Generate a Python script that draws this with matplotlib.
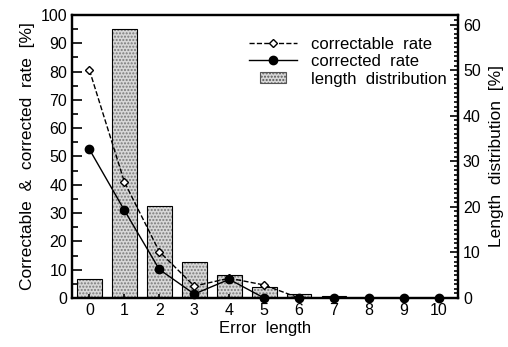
import matplotlib.pyplot as plt
import numpy as np
from matplotlib.ticker import MultipleLocator
from matplotlib.patches import Rectangle
from matplotlib.legend_handler import HandlerPatch

plt.rcParams['font.family'] = ['Liberation Sans', 'DejaVu Sans']

# data
error_length = [0, 1, 2, 3, 4, 5, 6, 7, 8, 9, 10]
length_dist = [4.1, 59.0, 20.1, 7.9, 5.0, 2.5, 0.9, 0.4, 0.1, 0.1, 0.1]
correctable = [80.5, 41, 16.4, 4.2, 7.0, 4.6, 0, 0, 0, 0, 0]
corrected = [52.5, 31, 10.1, 1.4, 6.6, 0, 0, 0, 0, 0, 0]

fig = plt.figure(figsize=(5.08, 3.47), dpi=100)
ax = fig.add_axes([0.1417, 0.1412, 0.76, 0.8156])
ax2 = ax.twinx()

# length distribution on right axis (stippled grey bars)
ax2.bar(error_length, length_dist, width=0.71, color='#d8d8d8', edgecolor='#7a7a7a',
        hatch='.....', linewidth=0, zorder=1)
ax2.bar(error_length, length_dist, width=0.71, facecolor='none', edgecolor='black',
        linewidth=0.8, zorder=2)

# rates on left axis, drawn above bars
ax.set_zorder(ax2.get_zorder() + 1)
ax.patch.set_visible(False)
l1, = ax.plot(error_length, correctable, color='black', linestyle='--', linewidth=1,
              marker='D', markersize=4, markerfacecolor='white', markeredgewidth=1,
              clip_on=False)
l2, = ax.plot(error_length, corrected, color='black', linestyle='-', linewidth=1,
              marker='o', markersize=6, clip_on=False)

ax.set_xlim(-0.5, 10.55)
ax.set_ylim(0, 100)
ax2.set_ylim(0, 62.1)

ax.set_xticks(error_length)
ax.yaxis.set_major_locator(MultipleLocator(10))
ax.yaxis.set_minor_locator(MultipleLocator(5))
ax2.yaxis.set_major_locator(MultipleLocator(10))
ax2.yaxis.set_minor_locator(MultipleLocator(1))

ax.tick_params(axis='both', which='both', direction='in', labelsize=11.5, width=1.2)
ax.tick_params(axis='y', which='major', length=7)
ax.tick_params(axis='y', which='minor', length=4)
ax.tick_params(axis='x', length=3)
ax2.tick_params(axis='y', which='both', direction='in', labelsize=11.5, width=1.2)
ax2.tick_params(axis='y', which='major', length=6)
ax2.tick_params(axis='y', which='minor', length=3)

for a in (ax, ax2):
    for s in a.spines.values():
        s.set_linewidth(1.6)

ax.set_xlabel('Error  length', fontsize=12, labelpad=2)
ax.set_ylabel('Correctable  &  corrected  rate  [%]', fontsize=12.5, labelpad=4)
ax2.set_ylabel('Length  distribution  [%]', fontsize=12.5, labelpad=6)


def small_box(legend, orig_handle, xdescent, ydescent, width, height, fontsize):
    w = width * 0.55
    h = height * 0.9
    return Rectangle((xdescent + (width - w) / 2, ydescent + (height - h) / 2), w, h)


box = Rectangle((0, 0), 1, 1, facecolor='#d8d8d8', edgecolor='#555555',
                hatch='.....', linewidth=0.8)
ax.legend([l1, l2, box], ['correctable  rate', 'corrected  rate', 'length  distribution'],
          handler_map={Rectangle: HandlerPatch(patch_func=small_box)},
          loc='upper right', bbox_to_anchor=(1.0, 0.965), frameon=False, fontsize=12,
          handlelength=2.9, labelspacing=0.15, borderaxespad=0.3, handletextpad=0.8)

fig.savefig('out.png', dpi=100)
